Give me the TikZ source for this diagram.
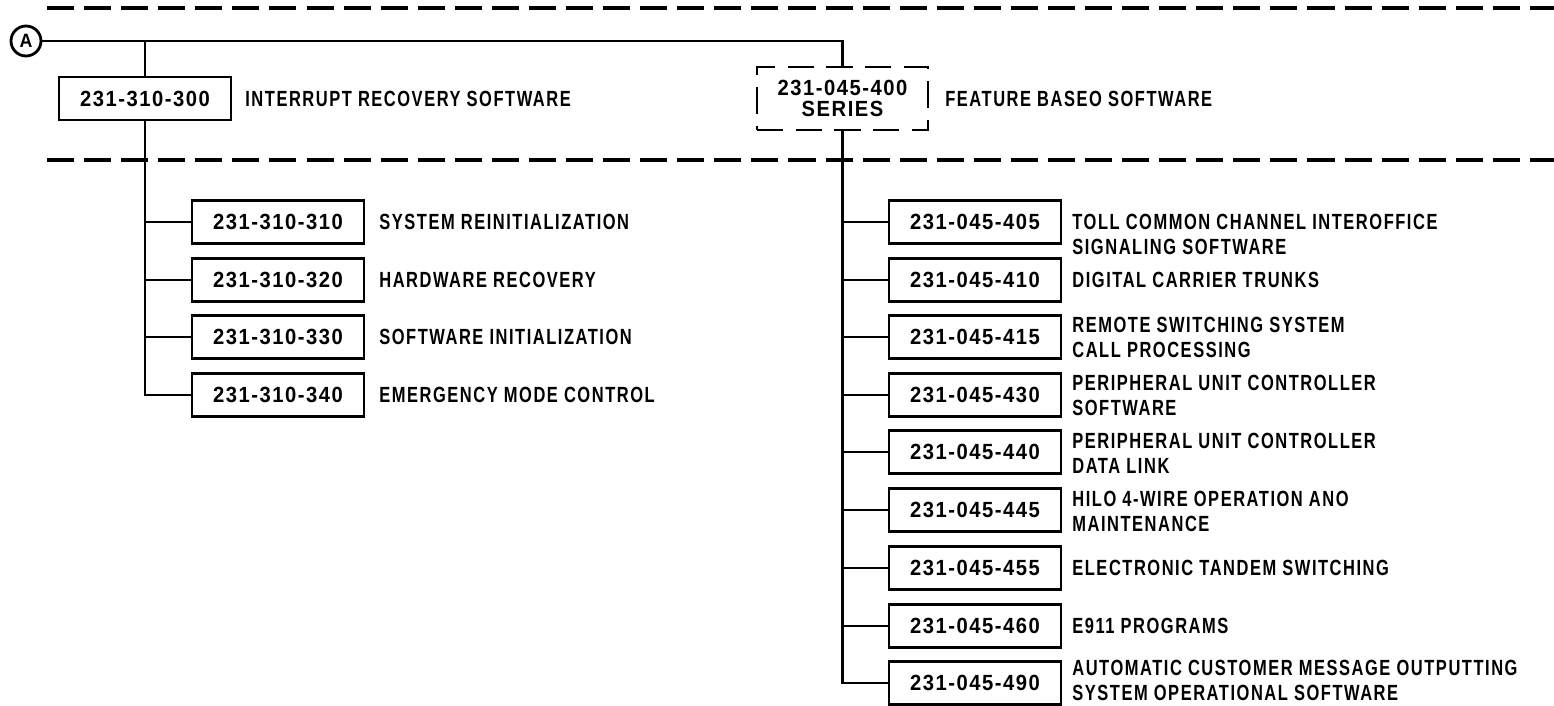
\documentclass[tikz,border=0pt]{standalone}
\usepackage{fontspec}
\newfontfamily\lblfont{Liberation Sans}[FakeStretch=0.75,LetterSpace=7]
\newfontfamily\numfont{Liberation Sans}[FakeStretch=0.92,LetterSpace=7]
\usetikzlibrary{positioning,calc}
\tikzset{
    % document boxes and their titles
    docbox/.style={rectangle,draw,line width=1.6pt,minimum width=3.44cm,minimum height=0.86cm,inner sep=0pt,font=\numfont\bfseries\fontsize{12.5}{14}\selectfont},
    seriesbox/.style={docbox,dash pattern=on 15pt off 7pt,minimum width=3.42cm,minimum height=1.26cm,align=center,font=\numfont\bfseries\fontsize{12.5}{12.2}\selectfont},
    doctitle/.style={anchor=west,align=left,inner sep=0pt,font=\lblfont\bfseries\fontsize{12.5}{14.2}\selectfont},
    tag/.style={circle,draw,line width=1.6pt,minimum size=0.6cm,inner sep=0pt,font=\numfont\bfseries\fontsize{11}{12}\selectfont},
    % lines
    wire/.style={line width=1.4pt},
    divider/.style={line width=2pt,dash pattern=on 15.4pt off 5.7pt}
}

\begin{document}
\begin{tikzpicture}[x=0.02cm,y=-0.02cm]
  \useasboundingbox (0,0) rectangle (1554,706);

  % section dividers
  \draw[divider] (47,8) -- (1554,8);
  \draw[divider] (47,160) -- (1554,160);

  % entry point and top level documents
  \node[tag] (entry) at (26,41) {A};
  \node[docbox] (d300) at (145,98.5) {231-310-300};
  \node[doctitle] (t300) at (245,98.5) {INTERRUPT RECOVERY SOFTWARE};
  \node[seriesbox] (d400) at (842.5,98.5) {231-045-400\\SERIES};
  \node[doctitle] (t400) at (945,98.5) {FEATURE BASEO SOFTWARE};

  \draw[wire] (entry) -- (entry -| d400.north) -- (d400.north);
  \draw[wire] (entry -| d300.north) -- (d300.north);

  % interrupt recovery branch
  \foreach \num/\ypos/\txt in {310/222/SYSTEM REINITIALIZATION,
                               320/280/HARDWARE RECOVERY,
                               330/337/SOFTWARE INITIALIZATION,
                               340/395/EMERGENCY MODE CONTROL}{
    \node[docbox] (d\num) at (278,\ypos) {231-310-\num};
    \node[doctitle] (t\num) at (379,\ypos) {\txt};
    \draw[wire] (d300.south |- d\num.west) -- (d\num.west);
  }
  \draw[wire] (d300.south) |- (d340.west);

  % feature based branch (second number: height of the title)
  \foreach \num/\ypos/\tpos/\txt in {405/222/234/{TOLL COMMON CHANNEL INTEROFFICE\\SIGNALING SOFTWARE},
                               410/280/280/{DIGITAL CARRIER TRUNKS},
                               415/337/337/{REMOTE SWITCHING SYSTEM\\CALL PROCESSING},
                               430/395/395/{PERIPHERAL UNIT CONTROLLER\\SOFTWARE},
                               440/452/453/{PERIPHERAL UNIT CONTROLLER\\DATA LINK},
                               445/510/511/{HILO 4-WIRE OPERATION ANO\\MAINTENANCE},
                               455/568/568/{ELECTRONIC TANDEM SWITCHING},
                               460/626/626/{E911 PROGRAMS},
                               490/683/680/{AUTOMATIC CUSTOMER MESSAGE OUTPUTTING\\SYSTEM OPERATIONAL SOFTWARE}}{
    \node[docbox] (d\num) at (975,\ypos) {231-045-\num};
    \node[doctitle] (t\num) at (1072,\tpos) {\txt};
    \draw[wire] (d400.south |- d\num.west) -- (d\num.west);
  }
  \draw[wire] (d400.south) |- (d490.west);
\end{tikzpicture}
\end{document}
